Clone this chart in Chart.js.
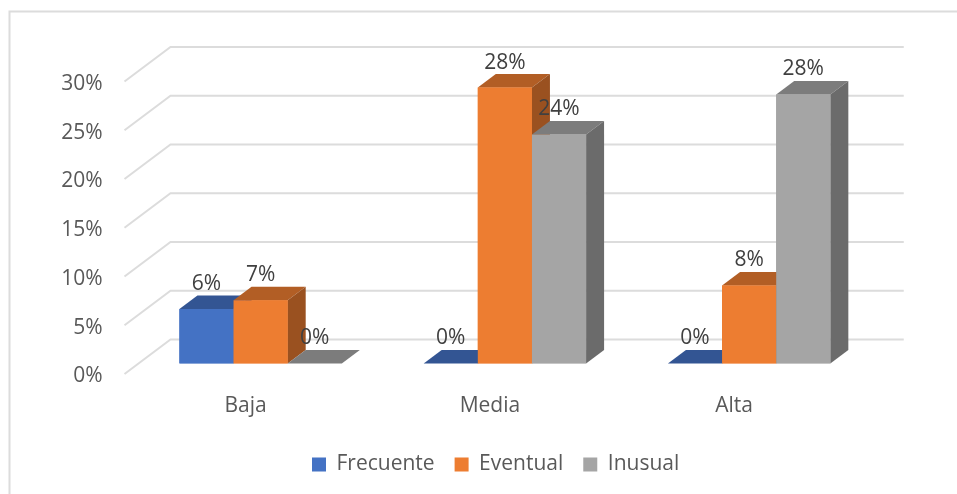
<!DOCTYPE html>
<html>
<head>
<meta charset="utf-8">
<script src="https://cdn.jsdelivr.net/npm/chart.js@4"></script>
<style>
  html, body { margin: 0; padding: 0; background: #fff; }
  canvas { display: block; }
</style>
</head>
<body>
<canvas id="chart3d" width="957" height="494"></canvas>
<script>
const categories = ['Baja', 'Media', 'Alta'];
const frecuente = [5.6, 0, 0];
const eventual = [6.5, 28.3, 8];
const inusual = [0, 23.5, 27.6];

const fontName = '"Open Sans", sans-serif';

// fake 3d: offsets from the plane the bars stand on
const frontOff = { x: -14, y: 10.5 };
const depth = { x: 18, y: -13.5 };
const backOff = { x: 32, y: -24 };

const faces = {
  Frecuente: { top: '#335593', side: '#2c4a80' },
  Eventual: { top: '#b25e25', side: '#9a5120' },
  Inusual: { top: '#7c7c7c', side: '#6b6b6b' }
};

const poly = (ctx, pts, color) => {
  ctx.fillStyle = color;
  ctx.beginPath();
  pts.forEach((p, i) => (i ? ctx.lineTo(p[0], p[1]) : ctx.moveTo(p[0], p[1])));
  ctx.closePath();
  ctx.fill();
};

const walls = {
  id: 'walls',
  // legend sits off-centre in the original
  afterLayout(chart) {
    chart.legend.left += 60;
    chart.legend.right += 60;
  },
  beforeDatasetsDraw(chart) {
    const { ctx, chartArea, scales } = chart;
    ctx.save();
    ctx.strokeStyle = '#dcdcdc';
    ctx.lineWidth = 2;
    // frame of the chart object, right and bottom are cut off
    ctx.beginPath();
    ctx.moveTo(9.5, 494);
    ctx.lineTo(9.5, 11.5);
    ctx.lineTo(957, 11.5);
    ctx.stroke();
    scales.y.ticks.forEach(t => {
      const y = scales.y.getPixelForValue(t.value);
      ctx.beginPath();
      ctx.moveTo(chartArea.left + frontOff.x, y + frontOff.y);
      ctx.lineTo(chartArea.left + backOff.x, y + backOff.y);
      ctx.lineTo(chartArea.right + backOff.x + 0.5, y + backOff.y);
      ctx.stroke();
    });
    ctx.restore();
  }
};

// chart.js paints the last dataset first, the boxes need left to right
const boxes = {
  id: 'boxes',
  afterDatasetsDraw(chart) {
    const { ctx } = chart;
    chart.data.datasets.forEach((ds, i) => {
      const c = faces[ds.label];
      chart.getDatasetMeta(i).data.forEach(bar => {
        const p = bar.getProps(['x', 'y', 'base', 'width'], true);
        const l = p.x - p.width / 2;
        const r = p.x + p.width / 2;
        poly(ctx, [[l, p.y], [r, p.y], [r + depth.x, p.y + depth.y], [l + depth.x, p.y + depth.y]], c.top);
        poly(ctx, [[r, p.y], [r, p.base], [r + depth.x, p.base + depth.y], [r + depth.x, p.y + depth.y]], c.side);
        bar.draw(ctx);
      });
    });
    ctx.save();
    ctx.font = '21px ' + fontName;
    ctx.fillStyle = '#404040';
    ctx.textAlign = 'center';
    ctx.textBaseline = 'middle';
    chart.data.datasets.forEach((ds, i) => {
      chart.getDatasetMeta(i).data.forEach((bar, j) => {
        const p = bar.getProps(['x', 'y'], true);
        ctx.fillText(Math.round(ds.data[j]) + '%', p.x, p.y - 25);
      });
    });
    ctx.restore();
  }
};

new Chart(document.getElementById('chart3d'), {
  type: 'bar',
  data: {
    labels: categories,
    datasets: [
      { label: 'Frecuente', data: frecuente, backgroundColor: '#4472c4' },
      { label: 'Eventual', data: eventual, backgroundColor: '#ed7d31' },
      { label: 'Inusual', data: inusual, backgroundColor: '#a5a5a5' }
    ]
  },
  options: {
    responsive: false,
    animation: false,
    events: [],
    categoryPercentage: 0.665,
    barPercentage: 1,
    layout: { padding: { left: 0, right: 85.75, top: 71, bottom: 9 } },
    plugins: {
      tooltip: { enabled: false },
      legend: {
        position: 'bottom',
        labels: {
          boxWidth: 14,
          boxHeight: 14,
          padding: 20,
          color: '#595959',
          font: { family: fontName, size: 21 }
        }
      }
    },
    scales: {
      x: {
        grid: { display: false },
        border: { display: false },
        ticks: { labelOffset: -15, padding: 22, color: '#595959', font: { family: fontName, size: 21 } },
        afterFit: s => { s.height = 70.5; }
      },
      y: {
        min: 0,
        max: 30,
        grid: { display: false },
        border: { display: false },
        ticks: {
          stepSize: 5,
          padding: 28,
          labelOffset: 13,
          color: '#595959',
          font: { family: fontName, size: 21 },
          callback: v => v + '%'
        },
        afterFit: s => { s.width = 138.5; }
      }
    }
  },
  plugins: [walls, boxes]
});
</script>
</body>
</html>
